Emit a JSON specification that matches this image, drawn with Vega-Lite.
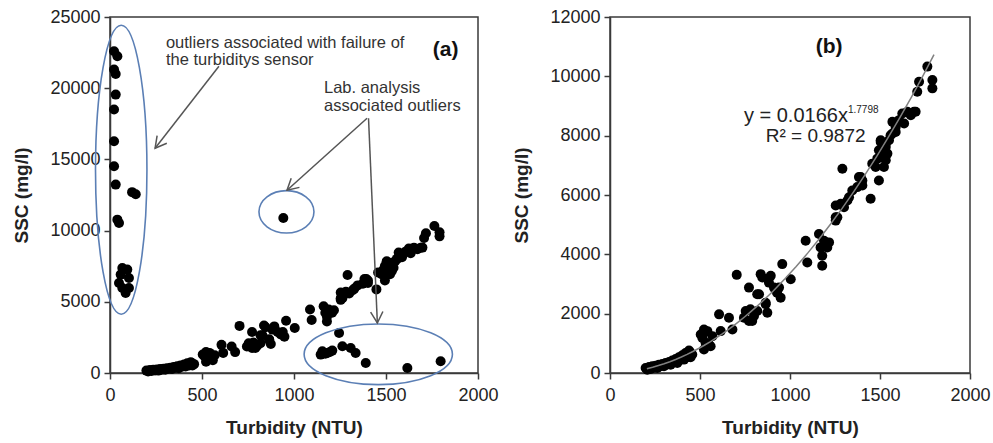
{
  "$schema": "https://vega.github.io/schema/vega-lite/v6.json",
  "background": "white",
  "padding": {"left": 12, "top": 7, "right": 5, "bottom": 5},
  "datasets": {
    "main": [
      {"turbidity": 198, "ssc": 169}, {"turbidity": 207, "ssc": 113}, {"turbidity": 217, "ssc": 203}, {"turbidity": 226, "ssc": 135},
      {"turbidity": 235, "ssc": 226}, {"turbidity": 245, "ssc": 180}, {"turbidity": 254, "ssc": 248}, {"turbidity": 263, "ssc": 169},
      {"turbidity": 272, "ssc": 282}, {"turbidity": 282, "ssc": 230}, {"turbidity": 291, "ssc": 305}, {"turbidity": 300, "ssc": 226},
      {"turbidity": 309, "ssc": 339}, {"turbidity": 318, "ssc": 290}, {"turbidity": 328, "ssc": 373}, {"turbidity": 337, "ssc": 282},
      {"turbidity": 346, "ssc": 418}, {"turbidity": 355, "ssc": 360}, {"turbidity": 365, "ssc": 474}, {"turbidity": 374, "ssc": 339},
      {"turbidity": 383, "ssc": 531}, {"turbidity": 392, "ssc": 450}, {"turbidity": 402, "ssc": 598}, {"turbidity": 411, "ssc": 452},
      {"turbidity": 420, "ssc": 677}, {"turbidity": 430, "ssc": 531}, {"turbidity": 439, "ssc": 756}, {"turbidity": 448, "ssc": 531},
      {"turbidity": 457, "ssc": 621}, {"turbidity": 445, "ssc": 700},
      {"turbidity": 504, "ssc": 1298}, {"turbidity": 522, "ssc": 1468}, {"turbidity": 541, "ssc": 1411}, {"turbidity": 513, "ssc": 1185},
      {"turbidity": 532, "ssc": 1412}, {"turbidity": 550, "ssc": 962}, {"turbidity": 522, "ssc": 792}, {"turbidity": 559, "ssc": 903},
      {"turbidity": 569, "ssc": 1242}, {"turbidity": 531, "ssc": 1016}, {"turbidity": 606, "ssc": 1977}, {"turbidity": 615, "ssc": 1412},
      {"turbidity": 661, "ssc": 1862}, {"turbidity": 680, "ssc": 1468}, {"turbidity": 704, "ssc": 3308},
      {"turbidity": 754, "ssc": 2089}, {"turbidity": 744, "ssc": 1862}, {"turbidity": 790, "ssc": 1750}, {"turbidity": 772, "ssc": 1750},
      {"turbidity": 800, "ssc": 1920}, {"turbidity": 818, "ssc": 2089}, {"turbidity": 772, "ssc": 2878}, {"turbidity": 837, "ssc": 3332},
      {"turbidity": 893, "ssc": 3274}, {"turbidity": 883, "ssc": 3047}, {"turbidity": 828, "ssc": 2655}, {"turbidity": 865, "ssc": 2370},
      {"turbidity": 939, "ssc": 2878}, {"turbidity": 948, "ssc": 2540}, {"turbidity": 957, "ssc": 3670}, {"turbidity": 1004, "ssc": 3163},
      {"turbidity": 928, "ssc": 2709}, {"turbidity": 865, "ssc": 2316}, {"turbidity": 818, "ssc": 2655}, {"turbidity": 846, "ssc": 3218},
      {"turbidity": 911, "ssc": 2879}, {"turbidity": 874, "ssc": 2032}, {"turbidity": 780, "ssc": 2145},
      {"turbidity": 1087, "ssc": 4460}, {"turbidity": 1096, "ssc": 3725}, {"turbidity": 1161, "ssc": 4686}, {"turbidity": 1170, "ssc": 4234},
      {"turbidity": 1179, "ssc": 3951}, {"turbidity": 1179, "ssc": 3613}, {"turbidity": 1207, "ssc": 4233}, {"turbidity": 1217, "ssc": 4402},
      {"turbidity": 1189, "ssc": 4459}, {"turbidity": 1254, "ssc": 5137},
      {"turbidity": 1291, "ssc": 6887}, {"turbidity": 1254, "ssc": 5249}, {"turbidity": 1254, "ssc": 5645}, {"turbidity": 1300, "ssc": 5587},
      {"turbidity": 1328, "ssc": 5926}, {"turbidity": 1346, "ssc": 6152}, {"turbidity": 1383, "ssc": 6603}, {"turbidity": 1402, "ssc": 6491},
      {"turbidity": 1402, "ssc": 6322}, {"turbidity": 1448, "ssc": 5871}, {"turbidity": 1494, "ssc": 6491}, {"turbidity": 1457, "ssc": 7057},
      {"turbidity": 1485, "ssc": 7226}, {"turbidity": 1494, "ssc": 7508}, {"turbidity": 1504, "ssc": 7788}, {"turbidity": 1282, "ssc": 5701},
      {"turbidity": 1263, "ssc": 5250}, {"turbidity": 1319, "ssc": 5814}, {"turbidity": 1374, "ssc": 6266}, {"turbidity": 1393, "ssc": 6605},
      {"turbidity": 1476, "ssc": 6943}, {"turbidity": 1522, "ssc": 6943},
      {"turbidity": 1532, "ssc": 7734}, {"turbidity": 1541, "ssc": 7395}, {"turbidity": 1559, "ssc": 8015}, {"turbidity": 1587, "ssc": 8127},
      {"turbidity": 1513, "ssc": 7395}, {"turbidity": 1532, "ssc": 7619}, {"turbidity": 1550, "ssc": 7845}, {"turbidity": 1569, "ssc": 8071},
      {"turbidity": 1587, "ssc": 8296}, {"turbidity": 1606, "ssc": 8523}, {"turbidity": 1624, "ssc": 8749}, {"turbidity": 1652, "ssc": 8804},
      {"turbidity": 1671, "ssc": 8692}, {"turbidity": 1689, "ssc": 8804}, {"turbidity": 1707, "ssc": 9482}, {"turbidity": 1717, "ssc": 9820},
      {"turbidity": 1763, "ssc": 10328}, {"turbidity": 1791, "ssc": 9877}, {"turbidity": 1791, "ssc": 9595}, {"turbidity": 1569, "ssc": 8466},
      {"turbidity": 1532, "ssc": 7169}, {"turbidity": 1504, "ssc": 7847}, {"turbidity": 1634, "ssc": 8411}, {"turbidity": 1698, "ssc": 8806}
    ],
    "outliers": [
      {"turbidity": 22, "ssc": 22600}, {"turbidity": 40, "ssc": 22240}, {"turbidity": 22, "ssc": 21305}, {"turbidity": 31, "ssc": 21000},
      {"turbidity": 31, "ssc": 19550}, {"turbidity": 22, "ssc": 18500}, {"turbidity": 22, "ssc": 16270}, {"turbidity": 22, "ssc": 14515},
      {"turbidity": 31, "ssc": 13230}, {"turbidity": 120, "ssc": 12700}, {"turbidity": 140, "ssc": 12550}, {"turbidity": 40, "ssc": 10770},
      {"turbidity": 49, "ssc": 10530}, {"turbidity": 67, "ssc": 7374}, {"turbidity": 94, "ssc": 7260}, {"turbidity": 58, "ssc": 6910},
      {"turbidity": 103, "ssc": 6670}, {"turbidity": 49, "ssc": 6320}, {"turbidity": 67, "ssc": 5970}, {"turbidity": 85, "ssc": 5620},
      {"turbidity": 103, "ssc": 5970}, {"turbidity": 942, "ssc": 10885}, {"turbidity": 1245, "ssc": 2810}, {"turbidity": 1154, "ssc": 1524},
      {"turbidity": 1181, "ssc": 1404}, {"turbidity": 1208, "ssc": 1573}, {"turbidity": 1145, "ssc": 1292}, {"turbidity": 1170, "ssc": 1350},
      {"turbidity": 1195, "ssc": 1480}, {"turbidity": 1263, "ssc": 1875}, {"turbidity": 1308, "ssc": 1756}, {"turbidity": 1335, "ssc": 1404},
      {"turbidity": 1390, "ssc": 702}, {"turbidity": 1616, "ssc": 351}, {"turbidity": 1797, "ssc": 822}
    ],
    "arrows": [
      {"turbidity": 592, "ssc": 21537, "turbidity2": 245, "ssc2": 15779},
      {"turbidity": 1397, "ssc": 17886, "turbidity2": 962, "ssc2": 12830},
      {"turbidity": 1405, "ssc": 17886, "turbidity2": 1453, "ssc2": 3511}
    ]
  },
  "spacing": 13,
  "hconcat": [
    {
      "width": 368,
      "height": 356,
      "encoding": {
        "x": {"field": "turbidity", "type": "quantitative", "scale": {"domain": [0, 2000], "nice": false},
              "axis": {"values": [0, 500, 1000, 1500, 2000], "format": "d", "title": "Turbidity (NTU)"}},
        "y": {"field": "ssc", "type": "quantitative", "scale": {"domain": [0, 25000], "nice": false},
              "axis": {"values": [0, 5000, 10000, 15000, 20000, 25000], "format": "d", "title": "SSC (mg/l)"}}
      },
      "layer": [
        {"data": {"name": "main"}, "mark": {"type": "circle", "size": 100, "color": "#000000", "opacity": 1}},
        {"data": {"name": "outliers"}, "mark": {"type": "circle", "size": 100, "color": "#000000", "opacity": 1}},
        {"data": {"values": [{"turbidity": 61, "ssc": 14270}]},
         "mark": {"type": "point", "filled": false, "stroke": "#5b7fb5", "strokeWidth": 1.6, "opacity": 1, "size": 83521,
                  "shape": "M 0.178,0 C 0.178,0.552 0.098,1 0,1 C -0.098,1 -0.178,0.552 -0.178,0 C -0.178,-0.552 -0.098,-1 0,-1 C 0.098,-1 0.178,-0.552 0.178,0 Z"}},
        {"data": {"values": [{"turbidity": 959, "ssc": 11320}]},
         "mark": {"type": "point", "filled": false, "stroke": "#5b7fb5", "strokeWidth": 1.6, "opacity": 1, "size": 3025,
                  "shape": "M 1,0 C 1,0.426 0.552,0.771 0,0.771 C -0.552,0.771 -1,0.426 -1,0 C -1,-0.426 -0.552,-0.771 0,-0.771 C 0.552,-0.771 1,-0.426 1,0 Z"}},
        {"data": {"values": [{"turbidity": 1458, "ssc": 1313}]},
         "mark": {"type": "point", "filled": false, "stroke": "#5b7fb5", "strokeWidth": 1.6, "opacity": 1, "size": 21993,
                  "shape": "M 1,0 C 1,0.226 0.552,0.409 0,0.409 C -0.552,0.409 -1,0.226 -1,0 C -1,-0.226 -0.552,-0.409 0,-0.409 C 0.552,-0.409 1,-0.226 1,0 Z"}},
        {"data": {"name": "arrows"}, "mark": {"type": "rule", "color": "#555555", "strokeWidth": 1.5},
         "encoding": {"x2": {"field": "turbidity2"}, "y2": {"field": "ssc2"}}},
        {"data": {"values": [{"turbidity": 245, "ssc": 15779}]},
         "mark": {"type": "point", "filled": false, "stroke": "#555555", "strokeWidth": 1.5, "opacity": 1, "size": 500, "angle": 128,
                  "shape": "M -1,-0.55 L 0,0 L -1,0.55"}},
        {"data": {"values": [{"turbidity": 962, "ssc": 12830}]},
         "mark": {"type": "point", "filled": false, "stroke": "#555555", "strokeWidth": 1.5, "opacity": 1, "size": 500, "angle": 138,
                  "shape": "M -1,-0.55 L 0,0 L -1,0.55"}},
        {"data": {"values": [{"turbidity": 1453, "ssc": 3511}]},
         "mark": {"type": "point", "filled": false, "stroke": "#555555", "strokeWidth": 1.5, "opacity": 1, "size": 500, "angle": 87,
                  "shape": "M -1,-0.55 L 0,0 L -1,0.55"}},
        {"data": {"values": [
            {"turbidity": 304, "ssc": 22823, "label": "outliers associated with failure of"},
            {"turbidity": 304, "ssc": 21657, "label": "the turbiditys sensor"},
            {"turbidity": 1163, "ssc": 19663, "label": "Lab. analysis"},
            {"turbidity": 1163, "ssc": 18378, "label": "associated outliers"}
          ]},
         "mark": {"type": "text", "align": "left", "baseline": "alphabetic", "fontSize": 16.5, "color": "#333333"},
         "encoding": {"text": {"field": "label"}}},
        {"data": {"values": [{"turbidity": 1824, "ssc": 22240, "label": "(a)"}]},
         "mark": {"type": "text", "align": "center", "baseline": "alphabetic", "fontSize": 21, "fontWeight": "bold", "color": "#111111"},
         "encoding": {"text": {"field": "label"}}}
      ]
    },
    {
      "width": 360,
      "height": 356,
      "encoding": {
        "x": {"field": "turbidity", "type": "quantitative", "scale": {"domain": [0, 2000], "nice": false},
              "axis": {"values": [0, 500, 1000, 1500, 2000], "format": "d", "title": "Turbidity (NTU)"}},
        "y": {"field": "ssc", "type": "quantitative", "scale": {"domain": [0, 12000], "nice": false},
              "axis": {"values": [0, 2000, 4000, 6000, 8000, 10000, 12000], "format": "d", "title": "SSC (mg/l)"}}
      },
      "layer": [
        {"data": {"name": "main"}, "mark": {"type": "circle", "size": 100, "color": "#000000", "opacity": 1}},
        {"data": {"name": "main"},
         "transform": [{"regression": "ssc", "on": "turbidity", "method": "pow", "extent": [205, 1800]}],
         "mark": {"type": "line", "color": "#808080", "strokeWidth": 1.5}},
        {"data": {"values": [
            {"turbidity": 744, "ssc": 8465, "label": "y = 0.0166x"}
          ]},
         "mark": {"type": "text", "align": "left", "baseline": "alphabetic", "fontSize": 20, "color": "#222222"},
         "encoding": {"text": {"field": "label"}}},
        {"data": {"values": [
            {"turbidity": 865, "ssc": 7788, "label": "R² = 0.9872"}
          ]},
         "mark": {"type": "text", "align": "left", "baseline": "alphabetic", "fontSize": 19, "color": "#222222"},
         "encoding": {"text": {"field": "label"}}},
        {"data": {"values": [{"turbidity": 1322, "ssc": 8750, "label": "1.7798"}]},
         "mark": {"type": "text", "align": "left", "baseline": "alphabetic", "fontSize": 10, "color": "#222222"},
         "encoding": {"text": {"field": "label"}}},
        {"data": {"values": [{"turbidity": 1217, "ssc": 10781, "label": "(b)"}]},
         "mark": {"type": "text", "align": "center", "baseline": "alphabetic", "fontSize": 21, "fontWeight": "bold", "color": "#111111"},
         "encoding": {"text": {"field": "label"}}}
      ]
    }
  ],
  "config": {
    "font": "Liberation Sans",
    "view": {"stroke": "#3a3a3a", "strokeWidth": 1.5},
    "axis": {
      "grid": false,
      "domainColor": "#3a3a3a", "domainWidth": 1.5,
      "tickColor": "#3a3a3a", "tickWidth": 1.5, "tickSize": 6,
      "labelFont": "Liberation Sans", "labelFontSize": 18, "labelColor": "#222222", "labelPadding": 4,
      "labelFlush": false, "labelOverlap": false,
      "titleFont": "Liberation Sans", "titleFontSize": 19, "titleFontWeight": "bold", "titleColor": "#222222", "titlePadding": 10
    },
    "axisX": {"labelPadding": 7, "titlePadding": 14},
    "axisY": {"titlePadding": 18}
  }
}
